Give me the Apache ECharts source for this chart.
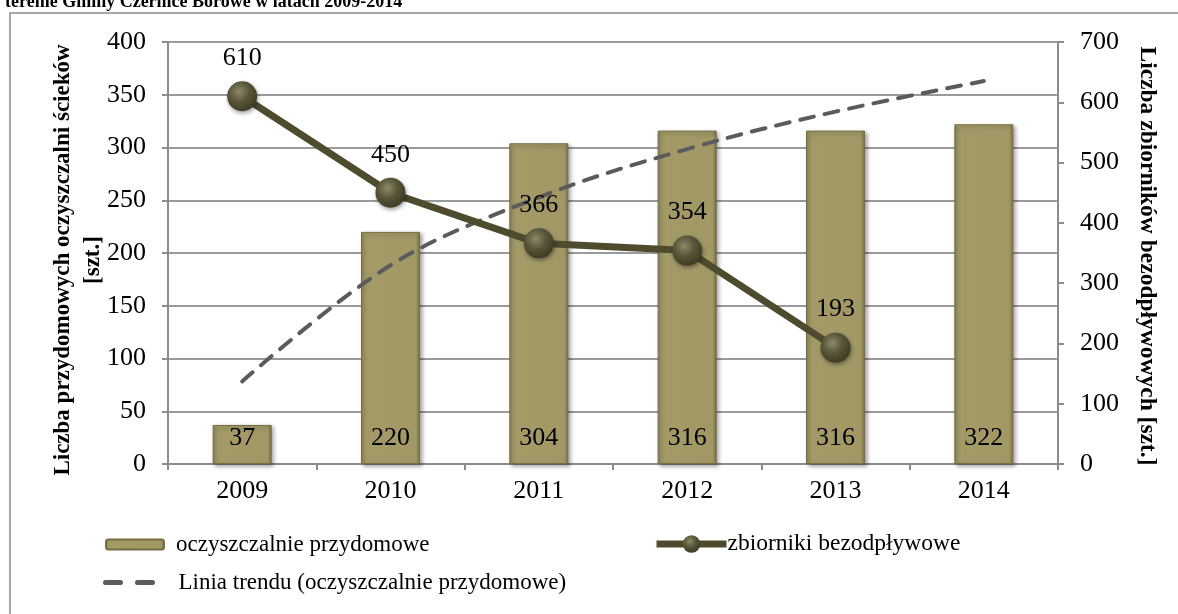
<!DOCTYPE html>
<html>
<head>
<meta charset="utf-8">
<script src="https://cdn.jsdelivr.net/npm/echarts@6/dist/echarts.min.js"></script>
<style>
  html, body { margin: 0; padding: 0; background: #fff; }
  #chart { width: 1178px; height: 614px; }
</style>
</head>
<body>
<div id="chart"></div>
<script>
// Lata i dane źródłowe
const years = ['2009', '2010', '2011', '2012', '2013', '2014'];
const plants = [37, 220, 304, 316, 316, 322];          // oczyszczalnie przydomowe
const tanks = [610, 450, 366, 354, 193, null];         // zbiorniki bezodpływowe
const leftAxis = { min: 0, max: 400, interval: 50 };
const rightAxis = { min: 0, max: 700, interval: 100 };

// Logarytmiczna linia trendu (metoda najmniejszych kwadratów: y = a·ln(x) + b)
function logTrend(values) {
  const xs = values.map((_, i) => Math.log(i + 1));
  const n = values.length;
  const mx = xs.reduce((s, v) => s + v, 0) / n;
  const my = values.reduce((s, v) => s + v, 0) / n;
  let sxy = 0, sxx = 0;
  xs.forEach((x, i) => { sxy += (x - mx) * (values[i] - my); sxx += (x - mx) * (x - mx); });
  const a = sxy / sxx, b = my - a * mx;
  return xs.map(x => +(a * x + b).toFixed(2));
}
const trend = logTrend(plants);

const FONT = 'Liberation Serif';
const AXIS_GRAY = '#8c8c8c';

const chart = echarts.init(document.getElementById('chart'));

const barColor = new echarts.graphic.LinearGradient(0, 0, 1, 0, [
  { offset: 0, color: '#8b8253' },
  { offset: 0.07, color: '#a39a68' },
  { offset: 0.93, color: '#a19866' },
  { offset: 1, color: '#7a7146' }
]);
const dotColor = new echarts.graphic.RadialGradient(0.4, 0.35, 0.75, [
  { offset: 0, color: '#8d8a68' },
  { offset: 0.45, color: '#58553a' },
  { offset: 1, color: '#38351f' }
]);

chart.setOption({
  animation: false,
  backgroundColor: '#fff',
  textStyle: { fontFamily: FONT, color: '#000' },
  grid: { left: 168, right: 120, top: 42, bottom: 150, containLabel: false },
  xAxis: {
    type: 'category',
    data: years,
    axisLine: { lineStyle: { color: AXIS_GRAY, width: 2 } },
    axisTick: { show: true, length: 6, lineStyle: { color: AXIS_GRAY, width: 2 } },
    axisLabel: { fontFamily: FONT, fontSize: 26, color: '#000', margin: 14 }
  },
  yAxis: [
    {
      type: 'value', position: 'left',
      min: leftAxis.min, max: leftAxis.max, interval: leftAxis.interval,
      axisLine: { show: true, lineStyle: { color: AXIS_GRAY, width: 2 } },
      axisTick: { show: true, length: 6, lineStyle: { color: AXIS_GRAY, width: 2 } },
      splitLine: { show: true, lineStyle: { color: '#9a9a9a', width: 2 } },
      axisLabel: { fontFamily: FONT, fontSize: 26, color: '#000', margin: 22 }
    },
    {
      type: 'value', position: 'right',
      min: rightAxis.min, max: rightAxis.max, interval: rightAxis.interval,
      axisLine: { show: true, lineStyle: { color: AXIS_GRAY, width: 2 } },
      axisTick: { show: true, length: 6, lineStyle: { color: AXIS_GRAY, width: 2 } },
      splitLine: { show: false },
      axisLabel: { fontFamily: FONT, fontSize: 26, color: '#000', margin: 22 }
    }
  ],
  legend: [
    {
      left: 100, top: 528, itemWidth: 58, itemHeight: 10, itemGap: 0,
      data: ['oczyszczalnie przydomowe'],
      textStyle: { fontFamily: FONT, fontSize: 23, color: '#000', padding: [0, 0, 0, 7] }
    },
    {
      left: 648, top: 527, itemWidth: 70, itemHeight: 22, itemGap: 0,
      data: ['zbiorniki bezodpływowe'],
      lineStyle: { width: 7 },
      textStyle: { fontFamily: FONT, fontSize: 23.5, color: '#000', padding: [0, 0, 0, -4] }
    },
    {
      left: 98, top: 566, itemWidth: 48, itemHeight: 12, itemGap: 0,
      data: ['Linia trendu (oczyszczalnie przydomowe)'],
      itemStyle: { opacity: 0 },
      lineStyle: { width: 5, type: [15, 17] },
      textStyle: { fontFamily: FONT, fontSize: 23, color: '#000', padding: [0, 0, 0, 20] }
    }
  ],
  series: [
    {
      name: 'oczyszczalnie przydomowe',
      type: 'bar',
      yAxisIndex: 0,
      data: plants,
      barWidth: 59,
      itemStyle: {
        color: barColor,
        borderColor: '#766d43', borderWidth: 1,
        shadowColor: 'rgba(0,0,0,0.35)', shadowBlur: 4, shadowOffsetX: 2, shadowOffsetY: 2
      },
      label: {
        show: true, position: 'insideBottom', distance: 13,
        fontFamily: FONT, fontSize: 26, color: '#000'
      },
      z: 2
    },
    {
      name: 'Linia trendu (oczyszczalnie przydomowe)',
      type: 'line',
      yAxisIndex: 0,
      data: trend,
      smooth: 0.35,
      symbol: 'none',
      lineStyle: { color: '#5b5b5b', width: 4, type: [14, 11], cap: 'round' },
      itemStyle: { color: '#5b5b5b' },
      z: 3
    },
    {
      name: 'zbiorniki bezodpływowe',
      type: 'line',
      yAxisIndex: 1,
      data: tanks,
      symbol: 'circle',
      symbolSize: 30,
      lineStyle: { color: '#4f4b2e', width: 7 },
      itemStyle: {
        color: dotColor,
        shadowColor: 'rgba(0,0,0,0.4)', shadowBlur: 4, shadowOffsetX: 1, shadowOffsetY: 2
      },
      label: {
        show: true, position: 'top', distance: 10,
        fontFamily: FONT, fontSize: 26, color: '#000'
      },
      z: 4
    }
  ],
  graphic: [
    {
      type: 'rect', z: -1, silent: true,
      shape: { x: 10, y: 13, width: 1400, height: 900 },
      style: { fill: 'none', stroke: '#8a8a8a', lineWidth: 1.5 }
    },
    {
      type: 'text', left: 5, top: -7,
      style: {
        text: 'terenie Gminy Czernice Borowe w latach 2009-2014',
        font: 'bold 18px "Liberation Serif"', fill: '#000'
      }
    },
    {
      type: 'text', x: 78, y: 260, rotation: Math.PI / 2,
      style: {
        text: 'Liczba przydomowych oczyszczalni ścieków\n[szt.]',
        font: 'bold 23px "Liberation Serif"', fill: '#000',
        align: 'center', verticalAlign: 'middle', lineHeight: 30
      }
    },
    {
      type: 'text', x: 1147, y: 256, rotation: -Math.PI / 2,
      style: {
        text: 'Liczba zbiorników bezodpływowych [szt.]',
        font: 'bold 23.5px "Liberation Serif"', fill: '#000',
        align: 'center', verticalAlign: 'middle'
      }
    }
  ]
});
</script>
</body>
</html>
